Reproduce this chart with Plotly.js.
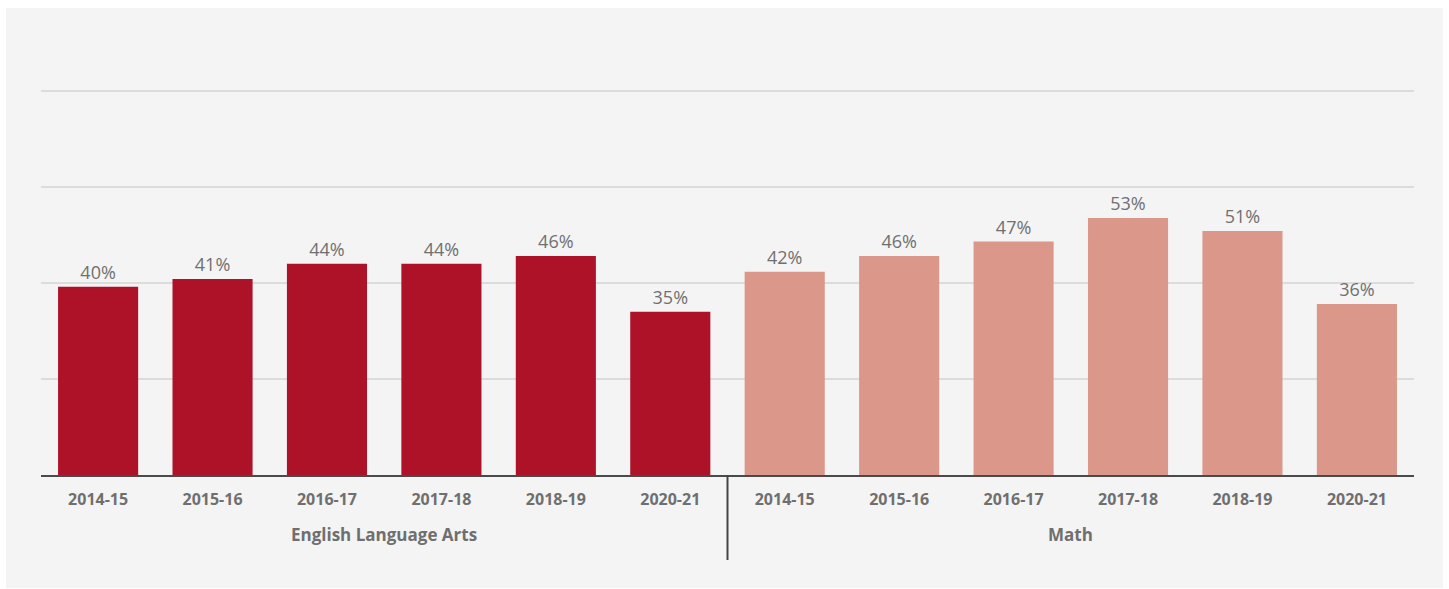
<!DOCTYPE html>
<html>
<head>
<meta charset="utf-8">
<script src="https://cdn.plot.ly/plotly-3.0.1.min.js"></script>
<style>
  html, body { margin: 0; padding: 0; background: #ffffff; }
  #chart { position: absolute; left: 6px; top: 8px; width: 1437px; height: 580px; }
</style>
</head>
<body>
<div id="chart"></div>
<script>
// Data
const years = ["2014-15", "2015-16", "2016-17", "2017-18", "2018-19", "2020-21"];
const subjects = ["English Language Arts", "Math"];
const elaValues = [39.2, 40.8, 44.0, 44.0, 45.6, 34.0];
const mathValues = [42.3, 45.6, 48.6, 53.5, 50.8, 35.6];
const elaLabels = ["40%", "41%", "44%", "44%", "46%", "35%"];
const mathLabels = ["42%", "46%", "47%", "53%", "51%", "36%"];
const colors = ["#AE1228", "#DA978A"];

const labelFont = { family: "Open Sans", size: 18, color: "#707070" };
const axisFont = { family: "Open Sans", size: 16, color: "#6f6f6f", weight: 700 };
const groupFont = { family: "Open Sans", size: 17, color: "#6f6f6f", weight: 700 };

// unique category keys: subject + year
const keyOf = (s, y) => s + " | " + y;
const allKeys = [];
const allTicks = [];
subjects.forEach(s => years.forEach(y => { allKeys.push(keyOf(s, y)); allTicks.push(y); }));

function makeTrace(i, vals, labels) {
  return {
    type: "bar",
    x: years.map(y => keyOf(subjects[i], y)),
    y: vals,
    text: labels,
    textposition: "outside",
    textfont: labelFont,
    cliponaxis: false,
    marker: { color: colors[i], line: { width: 0 } },
    hoverinfo: "skip",
    showlegend: false
  };
}

const data = [
  makeTrace(0, elaValues, elaLabels),
  makeTrace(1, mathValues, mathLabels)
];

const n = years.length;
const annotations = subjects.map((s, i) => ({
  xref: "x", yref: "paper",
  x: i * n + (n - 1) / 2,
  y: -0.154,
  yanchor: "middle",
  xanchor: "center",
  showarrow: false,
  text: s,
  font: groupFont
}));

const shapes = [{
  type: "line",
  xref: "x", yref: "paper",
  x0: n - 0.5, x1: n - 0.5,
  y0: 0, y1: -0.2185,
  line: { color: "#444444", width: 2 }
}];

const layout = {
  width: 1437,
  height: 580,
  margin: { l: 35, r: 29, t: 78, b: 113 },
  paper_bgcolor: "#f4f4f4",
  plot_bgcolor: "#f4f4f4",
  barmode: "relative",
  bargap: 0.3,
  font: { family: "Open Sans", color: "#6f6f6f" },
  xaxis: {
    type: "category",
    categoryorder: "array",
    categoryarray: allKeys,
    tickvals: allKeys,
    ticktext: allTicks,
    range: [-0.499, allKeys.length - 0.501],
    showline: true,
    linecolor: "#4a4a4a",
    linewidth: 2,
    ticks: "outside",
    ticklen: 9,
    tickcolor: "rgba(0,0,0,0)",
    showgrid: false,
    tickfont: axisFont
  },
  yaxis: {
    range: [0, 81],
    tickvals: [20, 40, 60, 80],
    showticklabels: false,
    showgrid: true,
    gridcolor: "#dcdcdc",
    gridwidth: 2,
    zeroline: false,
    showline: false,
    ticks: ""
  },
  annotations: annotations,
  shapes: shapes
};

Plotly.newPlot("chart", data, layout, { displayModeBar: false, staticPlot: true });
</script>
</body>
</html>
